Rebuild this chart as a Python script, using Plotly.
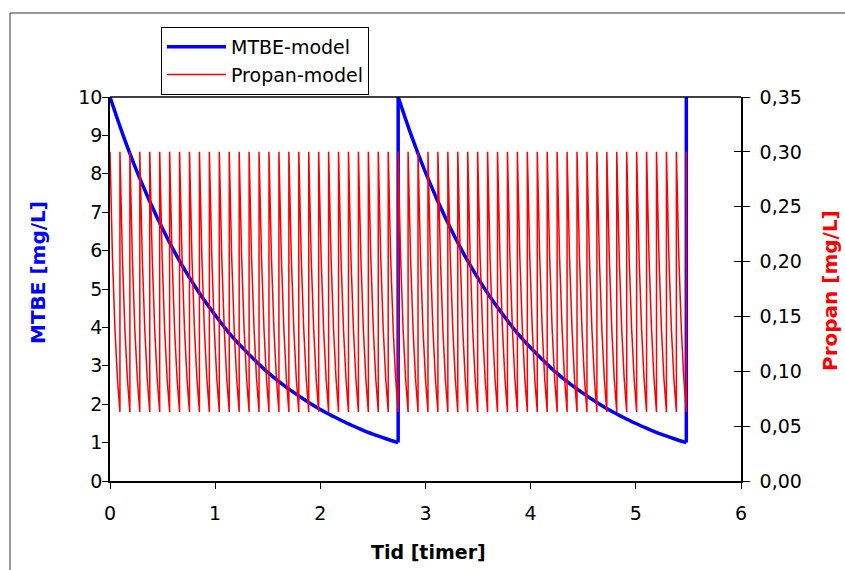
import plotly.graph_objects as go

# ---------------- data ----------------
# MTBE model: one decay cycle (time since dose [h], concentration [mg/L])
mtbe_cycle_t = [0.0, 0.125, 0.25, 0.375, 0.5, 0.625, 0.75, 0.875, 1.0, 1.125,
                1.25, 1.375, 1.5, 1.625, 1.75, 1.875, 2.0, 2.125, 2.25, 2.375,
                2.5, 2.625, 2.74]
mtbe_cycle_v = [10.0, 9.00, 8.10, 7.30, 6.57, 5.91, 5.32, 4.79, 4.32, 3.88,
                3.50, 3.15, 2.83, 2.55, 2.30, 2.07, 1.86, 1.68, 1.51, 1.36,
                1.22, 1.10, 1.00]
mtbe_dose_times = [0.0, 2.74]
mtbe_final_t = 5.48
mtbe_final_v = 10.0

# Propan model: one sawtooth (fraction of dose interval, concentration [mg/L])
propan_tooth_frac = [0.0, 0.25, 0.5, 0.75, 1.0]
propan_tooth_v = [0.300, 0.203, 0.138, 0.093, 0.063]
propan_n_doses = 58
propan_end_t = 5.48
propan_peak = 0.300

x_ticks = [0, 1, 2, 3, 4, 5, 6]
y1_ticks = [0, 1, 2, 3, 4, 5, 6, 7, 8, 9, 10]
y2_ticks = [0.0, 0.05, 0.10, 0.15, 0.20, 0.25, 0.30, 0.35]
y2_labels = ["0,00", "0,05", "0,10", "0,15", "0,20", "0,25", "0,30", "0,35"]

# ---------------- figure ----------------
FONT = "DejaVu Sans, Verdana, sans-serif"
BLUE = "#0000FF"
RED = "#FF0000"
fig = go.Figure()

# Propan sawtooth
interval = propan_end_t / propan_n_doses
pr_x, pr_y = [], []
for n in range(propan_n_doses):
    for f, v in zip(propan_tooth_frac, propan_tooth_v):
        pr_x.append((n + f) * interval)
        pr_y.append(v)
pr_x.append(propan_end_t)
pr_y.append(propan_peak)
fig.add_trace(go.Scatter(x=pr_x, y=pr_y, mode="lines", name="Propan-model",
                         yaxis="y2", legendgroup="p", legendrank=2,
                         line=dict(color=RED, width=1.5, simplify=False)))

# MTBE: smooth decay per cycle plus vertical jumps at the doses
for i, t0 in enumerate(mtbe_dose_times):
    fig.add_trace(go.Scatter(x=[t0 + dt for dt in mtbe_cycle_t], y=mtbe_cycle_v,
                             mode="lines", name="MTBE-model", legendgroup="m",
                             legendrank=1, showlegend=(i == 0),
                             line=dict(color=BLUE, width=3.5, shape="spline",
                                       smoothing=1.0, simplify=False)))
jump_x, jump_y = [], []
for t0 in mtbe_dose_times[1:] + [mtbe_final_t]:
    jump_x += [t0, t0, None]
    jump_y += [mtbe_cycle_v[-1], mtbe_final_v, None]
fig.add_trace(go.Scatter(x=jump_x, y=jump_y, mode="lines", legendgroup="m",
                         showlegend=False, line=dict(color=BLUE, width=3.5)))

L, R, T, B = 110, 741, 97, 481
W, H = 845, 570

def px(x):
    return (x - L) / (R - L)

def py(y):
    return (B - y) / (B - T)

axis_common = dict(tickcolor="black", showline=True, linecolor="black",
                   linewidth=1.5, showgrid=False, zeroline=False,
                   tickfont=dict(size=19, family=FONT, color="black"))

fig.update_layout(
    width=W, height=H,
    margin=dict(l=L, r=W - R, t=T, b=H - B),
    paper_bgcolor="white", plot_bgcolor="white",
    font=dict(family=FONT, size=19, color="black"),
    showlegend=True,
    legend=dict(x=px(161), y=py(27), xanchor="left", yanchor="top",
                bordercolor="black", borderwidth=1, bgcolor="white",
                font=dict(size=19, family=FONT), tracegroupgap=0,
                itemwidth=59),
    xaxis=dict(range=[0, 6], tickvals=x_ticks, ticks="outside", ticklen=6,
               ticklabelstandoff=8, **axis_common),
    yaxis=dict(range=[0, 10], tickvals=y1_ticks, ticks="outside", ticklen=6,
               ticklabelstandoff=-4, **axis_common),
    yaxis2=dict(range=[0, 0.35], tickvals=y2_ticks, ticktext=y2_labels,
                overlaying="y", side="right", ticks="outside", ticklen=7,
                ticklabelstandoff=6, **axis_common),
    yaxis3=dict(range=[0, 0.35], tickvals=y2_ticks, overlaying="y", side="right",
                ticks="inside", ticklen=7, tickcolor="black", showticklabels=False,
                showline=False, showgrid=False, zeroline=False),
)

# invisible trace to activate yaxis3
fig.add_trace(go.Scatter(x=[0], y=[0], yaxis="y3", mode="markers",
                         marker=dict(opacity=0), showlegend=False, hoverinfo="skip"))

# top frame line of plot area
fig.add_shape(type="line", xref="paper", yref="paper", x0=0, x1=1, y0=1, y1=1,
              line=dict(color="black", width=1.5))
# outer chart border
fig.add_shape(type="rect", xref="paper", yref="paper",
              x0=px(10), x1=px(850), y0=py(13), y1=py(580),
              line=dict(color="#333333", width=1), layer="below")

# axis titles
fig.add_annotation(text="<b>MTBE [mg/L]</b>", xref="paper", yref="paper",
                   x=px(38), y=py(273), xanchor="center", yanchor="middle",
                   showarrow=False, textangle=-90,
                   font=dict(color=BLUE, size=20, family=FONT))
fig.add_annotation(text="<b>Propan [mg/L]</b>", xref="paper", yref="paper",
                   x=px(830), y=py(291), xanchor="center", yanchor="middle",
                   showarrow=False, textangle=-90,
                   font=dict(color=RED, size=20, family=FONT))
fig.add_annotation(text="<b>Tid [timer]</b>", xref="paper", yref="paper",
                   x=px(428), y=py(552), xanchor="center", yanchor="middle",
                   showarrow=False,
                   font=dict(color="black", size=19, family=FONT))

fig.write_html("out.html")
